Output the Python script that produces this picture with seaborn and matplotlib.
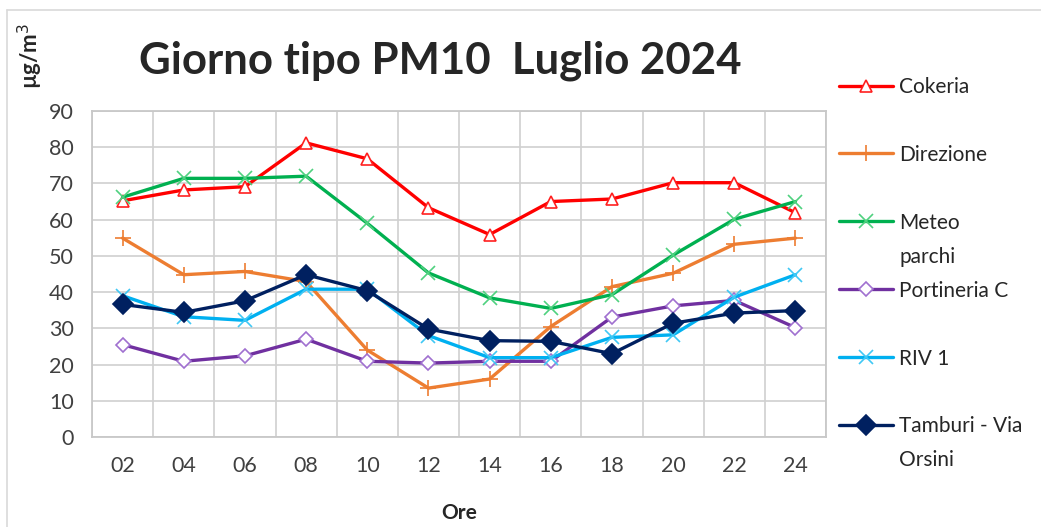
import matplotlib
matplotlib.use("Agg")
import matplotlib.pyplot as plt
from matplotlib.lines import Line2D
import numpy as np
import pandas as pd
import seaborn as sns

ore = ["02", "04", "06", "08", "10", "12", "14", "16", "18", "20", "22", "24"]

cokeria = [65.2, 68.2, 69.1, 81.2, 76.8, 63.3, 55.9, 65.0, 65.7, 70.2, 70.2, 61.9]
direzione = [54.9, 44.8, 45.7, 42.9, 24.0, 13.5, 16.0, 30.5, 41.5, 45.2, 53.2, 54.9]
meteo_parchi = [66.2, 71.4, 71.4, 72.0, 59.0, 45.3, 38.4, 35.5, 39.3, 50.2, 60.1, 65.0]
portineria_c = [25.5, 20.9, 22.4, 27.0, 20.9, 20.4, 20.9, 20.9, 33.1, 36.2, 37.7, 30.2]
riv_1 = [39.0, 33.2, 32.2, 40.8, 40.8, 28.0, 21.9, 21.9, 27.5, 28.2, 38.6, 44.8]
tamburi = [36.6, 34.4, 37.6, 44.8, 40.4, 29.8, 26.6, 26.4, 23.0, 31.4, 34.2, 34.9]

series = ["Cokeria", "Direzione", "Meteo parchi", "Portineria C", "RIV 1", "Tamburi - Via Orsini"]
legend_labels = ["Cokeria", "Direzione", "Meteo\nparchi", "Portineria C", "RIV 1", "Tamburi - Via\nOrsini"]
y_ticks = [0, 10, 20, 30, 40, 50, 60, 70, 80, 90]

df = pd.DataFrame({"Ore": ore, "Cokeria": cokeria, "Direzione": direzione,
                   "Meteo parchi": meteo_parchi, "Portineria C": portineria_c,
                   "RIV 1": riv_1, "Tamburi - Via Orsini": tamburi})

# stile per serie: colore linea, marker, colore bordo marker, riempimento, dimensione
stili = {
    "Cokeria": ("#FF0000", "^", "#FF2020", "white", 9),
    "Direzione": ("#ED7D31", "+", "#ED7D31", "none", 11),
    "Meteo parchi": ("#00B050", "x", "#4FD17F", "none", 10),
    "Portineria C": ("#7030A0", "D", "#A070D0", "white", 7),
    "RIV 1": ("#00B0F0", "x", "#40C8F5", "none", 10),
    "Tamburi - Via Orsini": ("#002060", "D", "#002060", "#002060", 10),
}

sns.set_style("white")
plt.rcParams["font.family"] = ["Lato", "DejaVu Sans"]

fig = plt.figure(figsize=(10.41, 5.27), dpi=100)
ax = fig.add_axes([0.0884, 0.1708, 0.7051, 0.6186])

x_pos = np.arange(len(ore))
for s in series:
    col, mk, mec, mfc, ms = stili[s]
    sns.lineplot(x=x_pos, y=df[s], ax=ax, color=col, linewidth=2.4, marker=mk,
                 markersize=ms, markeredgecolor=mec, markerfacecolor=mfc,
                 markeredgewidth=1.2, label=s, legend=False)

ax.set_xlim(-0.5, len(ore) - 0.5)
ax.set_ylim(0, 90)
ax.set_yticks(y_ticks)
ax.set_xticks(x_pos)
ax.set_xticklabels(ore)
ax.set_xticks(np.arange(len(ore) + 1) - 0.5, minor=True)
ax.tick_params(axis="x", which="major", length=0, labelsize=15.5, pad=14, colors="#404040")
ax.tick_params(axis="x", which="minor", length=8, color="#D0D0D0", width=1.2)
ax.tick_params(axis="y", length=9, width=1.2, labelsize=15.5, pad=4, colors="#404040")
ax.tick_params(axis="y", color="#D0D0D0")
ax.grid(True, which="minor", axis="x", color="#D0D0D0", linewidth=1.2)
ax.grid(True, which="major", axis="y", color="#D0D0D0", linewidth=1.2)
for sp in ax.spines.values():
    sp.set_color("#C8C8C8")
    sp.set_linewidth(1.3)
ax.set_xlabel("Ore", fontsize=15, fontweight="bold", labelpad=19)
ax.set_ylabel("")

fig.text(0.4227, 0.884, "Giorno tipo PM10  Luglio 2024", fontsize=31.5, fontweight="bold",
         ha="center", va="center")
fig.text(0.029, 0.893, "µg/m$^3$", fontsize=16, fontweight="bold", rotation=90,
         ha="center", va="center")

# legenda in stile Excel: una riga vuota (o la seconda riga dell'etichetta) dopo ogni voce
handles, _ = ax.get_legend_handles_labels()
vuoto = Line2D([], [], linestyle="none")
righe_h, righe_l = [], []
for h, lab in zip(handles, legend_labels):
    parti = lab.split("\n")
    righe_h.append(h)
    righe_l.append(parti[0])
    righe_h.append(vuoto)
    righe_l.append(parti[1] if len(parti) > 1 else " ")

fig.legend(righe_h, righe_l, loc="upper left", bbox_to_anchor=(0.798, 0.870),
           frameon=False, fontsize=15, labelspacing=0.67, handlelength=2.6,
           handletextpad=0.3, borderaxespad=0)

fig.add_artist(Line2D([0.0067, 0.0067], [0, 0.981], color="#D9D9D9", linewidth=1.2))
fig.add_artist(Line2D([0.0067, 1.0], [0.981, 0.981], color="#D9D9D9", linewidth=1.2))

fig.savefig("out.png", dpi=100)
